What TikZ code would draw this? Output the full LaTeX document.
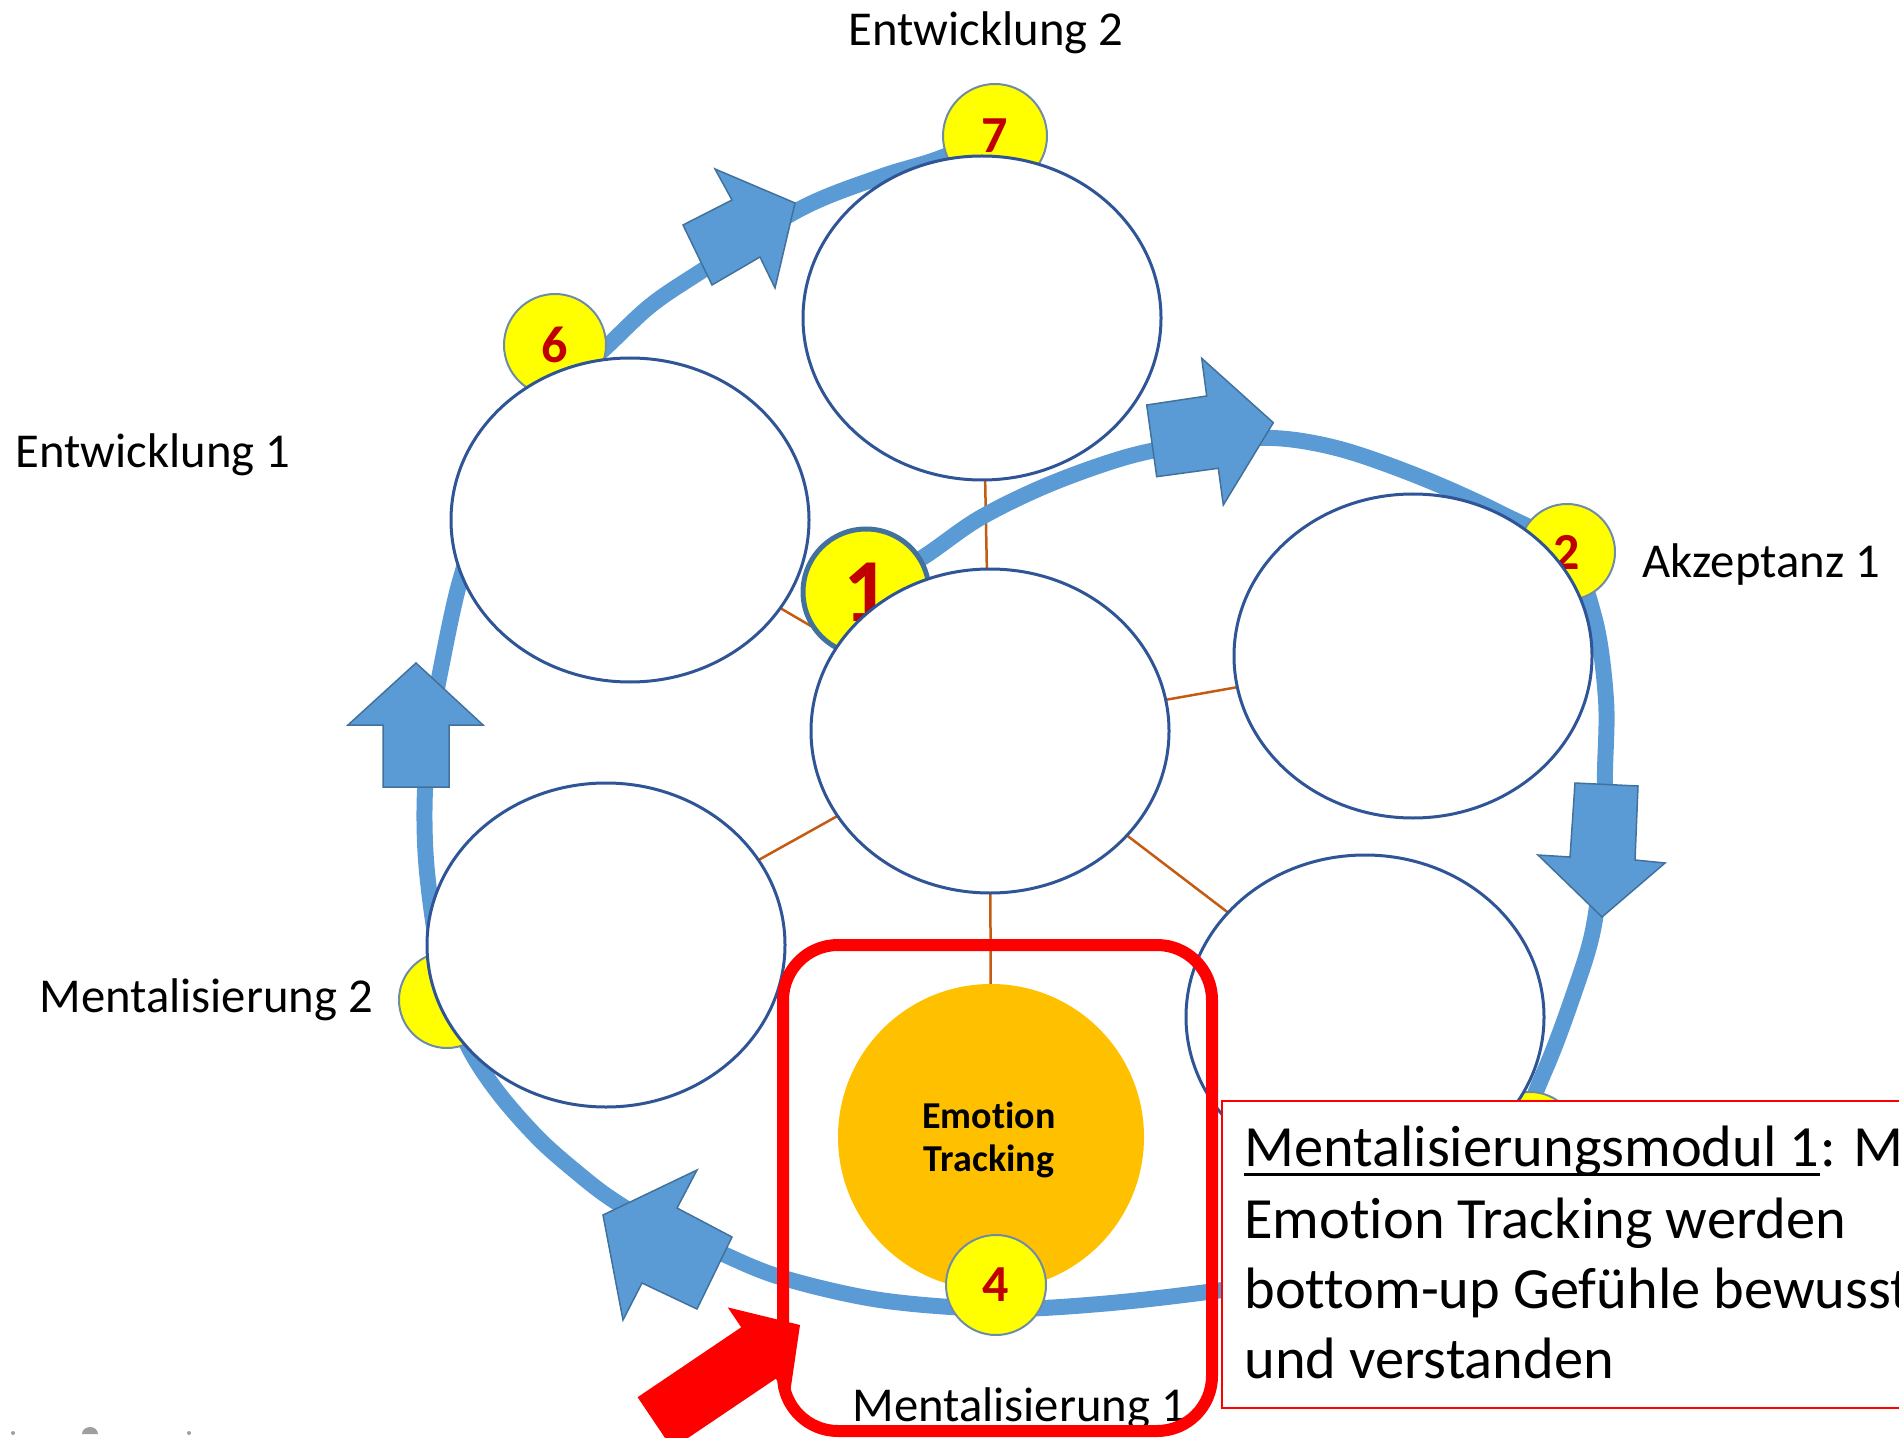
\documentclass[tikz,border=0pt]{standalone}
\usepackage{fontspec}
\setmainfont{Carlito}[Ligatures={NoCommon,NoContextual}]
\usetikzlibrary{shapes.geometric}
\definecolor{ringblue}{HTML}{5B9BD5}
\definecolor{arrowedge}{HTML}{41719C}
\definecolor{ovaledge}{HTML}{2F5597}
\definecolor{linkbrown}{HTML}{C55A11}
\definecolor{stepyellow}{HTML}{FFFF00}
\definecolor{numred}{HTML}{C00000}
\definecolor{hubgold}{HTML}{FFC000}
\definecolor{markred}{HTML}{FF0000}
\definecolor{discedge}{HTML}{6E8CA8}
\pgfdeclarelayer{links}
\pgfdeclarelayer{ring}
\pgfdeclarelayer{discs}
\pgfsetlayers{links,ring,discs,main}
\begin{document}
\begin{tikzpicture}[x=0.5pt,y=-0.5pt,
  oval/.style={ellipse, draw=ovaledge, line width=1.5pt, fill=white,
    minimum width=179pt, minimum height=162pt, inner sep=0pt},
  stepdisc/.style={circle, draw=discedge, line width=1pt, fill=stepyellow,
    minimum size=#1, inner sep=0pt, text=numred,
    font=\fontsize{26}{26}\selectfont\bfseries},
  stepdisc/.default=50pt,
  link/.style={draw=linkbrown, line width=1.25pt},
  ringline/.style={draw=ringblue, line width=8pt},
  blockarrow/.style={fill=ringblue, draw=arrowedge, line width=0.75pt, line join=miter},
  stagename/.style={anchor=base west, inner sep=0pt, font=\fontsize{24.35}{29}\selectfont},
  bodytext/.style={anchor=base west, inner sep=0pt, font=\fontsize{29.2}{35}\selectfont},
  hubtext/.style={anchor=base, inner sep=0pt, font=\fontsize{19}{22}\selectfont\bfseries},
]
\useasboundingbox (0,0) rectangle (1899,1438);
\clip (0,0) rectangle (1899,1438);

% the six ovals around the middle one
\node[oval] (top)   at (982,318)  {};
\node[oval] (upl)   at (630,520)  {};
\node[oval] (mid)   at (990,731)  {};
\node[oval] (right) at (1413,656) {};
\node[oval] (lowl)  at (606,945)  {};
\node[oval] (lowr)  at (1365,1017) {};
\node[circle, fill=hubgold, minimum size=153pt, inner sep=0pt] (hub) at (991,1137) {};
\node[hubtext] (hubA) at (989,1128) {Emotion};
\node[hubtext] (hubB) at (989,1171) {Tracking};

% spokes from the middle oval
\begin{pgfonlayer}{links}
  \draw[link] (mid.center) -- (top.center);
  \draw[link] (mid.center) -- (upl.center);
  \draw[link] (mid.center) -- (right.center);
  \draw[link] (mid.center) -- (lowl.center);
  \draw[link] (mid.center) -- (lowr.center);
  \draw[link] (mid.center) -- (hub.center);
\end{pgfonlayer}

% numbered step discs
\begin{pgfonlayer}{discs}
  \node[stepdisc=63pt, draw=arrowedge, line width=2.5pt,
        font=\fontsize{45}{45}\selectfont\bfseries] (d1) at (866,592) {1};
  \node[stepdisc=48pt] (d2) at (1567,552) {2};
  \node[stepdisc=48pt] (d3) at (1530,1140) {3};
  \node[stepdisc=48pt] (d5) at (447,1000) {\hspace*{10pt}5};
  \node[stepdisc=51pt] (d6) at (555,345) {6};
  \node[stepdisc=52pt] (d7) at (995,136) {7};
\end{pgfonlayer}
\node[stepdisc=50pt] (d4) at (996,1285) {4};

% the spiral path through the steps
\begin{pgfonlayer}{ring}
  \draw[ringline] plot[smooth, tension=0.55] coordinates {
    (d1.center) (925,556) (980,518) (1050,484) (1130,456) (1200,443)
    (1273,438) (1340,449) (1420,477) (1500,513) (d2.center) (1595,620)
    (1606,700) (1605,770) (1603,850) (1593,930) (1574,993) (1545,1070)
    (1505,1150) (1420,1235) (1320,1275) (1215,1291) (1100,1304) (996,1309)
    (880,1300) (780,1277) (714,1250) (650,1222) (610,1198) (580,1175)
    (540,1140) (500,1095) (470,1050) (450,1000) (436,940) (426,860)
    (425,790) (432,720) (442,663) (460,581) (488,500) (525,430)
    (562,385) (603,350) (650,306) (700,272) (800,209) (880,177)
    (935,160) (d7.center)};
  % direction arrows along the path
  \filldraw[blockarrow] (1201.7,358.3) -- (1273.3,422.7) -- (1223.3,505) -- (1218.3,468.3)
    -- (1156.7,476.7) -- (1146.7,405) -- (1206.7,396) -- cycle;
  \filldraw[blockarrow] (1575,783) -- (1638,786) -- (1635,860) -- (1665,863)
    -- (1602,917) -- (1538,855) -- (1570,857) -- cycle;
  \filldraw[blockarrow] (603,1215) -- (697,1170) -- (677,1208) -- (732,1237)
    -- (697,1309) -- (642,1283) -- (623,1320) -- cycle;
  \filldraw[blockarrow] (416,663) -- (483,725) -- (449,725) -- (449,787)
    -- (383,787) -- (383,725) -- (348,725) -- cycle;
  \filldraw[blockarrow] (715,169) -- (795,203) -- (775,288) -- (760,257)
    -- (712,285) -- (683,225) -- (732,200) -- cycle;
\end{pgfonlayer}

% module note
\node[draw=markred, line width=1pt, fill=white, anchor=north west,
      minimum width=360pt, minimum height=153.5pt, inner sep=0pt] (note) at (1221,1100) {};
\node[bodytext] (noteTitle) at (1244,1166) {Mentalisierungsmodul 1};
\node[bodytext] (noteA) at (noteTitle.base east) {: M};
\draw[line width=1.3pt] ([yshift=-4.35pt]noteTitle.base west) -- ([yshift=-4.35pt]noteTitle.base east);
\node[bodytext] (noteB) at (1244,1238) {Emotion Tracking werden};
\node[bodytext] (noteC) at (1244,1308) {bottom-up Gefühle bewusst};
\node[bodytext] (noteD) at (1244,1378) {und verstanden};

% stage names
\node[stagename] (e2) at (848,46)   {Entwicklung 2};
\node[stagename] (e1) at (15,467)   {Entwicklung 1};
\node[stagename] (a1) at (1642,577) {Akzeptanz 1};
\node[stagename] (m2) at (39,1012)  {Mentalisierung 2};
\node[stagename] (m1) at (852,1421) {Mentalisierung 1};

% pointer and highlight frame
\fill[markred] (800,1325) -- (727.8,1307.4) -- (741.2,1327.3) -- (637.6,1397.2)
  -- (672.2,1448.6) -- (775.8,1378.7) -- (789.2,1398.6) -- cycle;
\draw[markred, line width=6pt, rounded corners=27.5pt] (783,945) rectangle (1212,1431);

% small grey marks along the lower edge
\fill[gray!75] (13,1433) circle[radius=1pt];
\fill[gray!75] (189,1433) circle[radius=1pt];
\fill[gray!75] (82,1434) arc[start angle=180, end angle=0, x radius=4pt, y radius=3.5pt] -- cycle;
\end{tikzpicture}
\end{document}
